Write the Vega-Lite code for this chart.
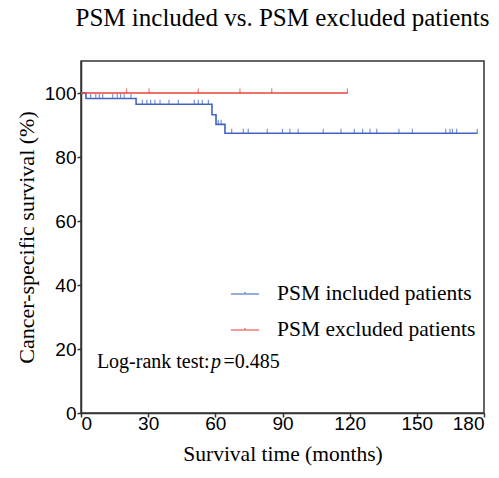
{
  "$schema": "https://vega.github.io/schema/vega-lite/v6.json",
  "width": 403,
  "height": 352,
  "autosize": "none",
  "padding": {"left": 81, "top": 61, "right": 15, "bottom": 65},
  "background": "white",
  "title": {
    "text": "PSM included vs. PSM excluded patients",
    "font": "Liberation Serif",
    "fontSize": 25,
    "fontWeight": "normal",
    "color": "black",
    "anchor": "middle",
    "offset": 30
  },
  "config": {
    "view": {"stroke": "#333", "strokeWidth": 1.5},
    "axis": {
      "domainColor": "#333",
      "domainWidth": 1.5,
      "tickColor": "#333",
      "tickWidth": 1.5,
      "tickSize": 4,
      "grid": false,
      "labelFont": "Liberation Sans",
      "labelFontSize": 19,
      "labelColor": "black",
      "titleFont": "Liberation Serif",
      "titleFontWeight": "normal",
      "titleColor": "black"
    }
  },
  "datasets": {
    "curves": [
      {"group": "PSM included patients", "time": 0, "surv": 100},
      {"group": "PSM included patients", "time": 2.2, "surv": 98.3},
      {"group": "PSM included patients", "time": 24.6, "surv": 96.5},
      {"group": "PSM included patients", "time": 58.5, "surv": 93.2},
      {"group": "PSM included patients", "time": 60.3, "surv": 90.2},
      {"group": "PSM included patients", "time": 64.3, "surv": 87.4},
      {"group": "PSM included patients", "time": 177, "surv": 87.4},
      {"group": "PSM excluded patients", "time": 0, "surv": 100},
      {"group": "PSM excluded patients", "time": 119, "surv": 100}
    ],
    "censors": [
      {"group": "PSM included patients", "time": 4.3, "surv": 98.3},
      {"group": "PSM included patients", "time": 6.6, "surv": 98.3},
      {"group": "PSM included patients", "time": 8.2, "surv": 98.3},
      {"group": "PSM included patients", "time": 9.7, "surv": 98.3},
      {"group": "PSM included patients", "time": 14.2, "surv": 98.3},
      {"group": "PSM included patients", "time": 16.2, "surv": 98.3},
      {"group": "PSM included patients", "time": 17.7, "surv": 98.3},
      {"group": "PSM included patients", "time": 19.3, "surv": 98.3},
      {"group": "PSM included patients", "time": 22.3, "surv": 98.3},
      {"group": "PSM included patients", "time": 27.4, "surv": 96.5},
      {"group": "PSM included patients", "time": 29.4, "surv": 96.5},
      {"group": "PSM included patients", "time": 31.1, "surv": 96.5},
      {"group": "PSM included patients", "time": 33.0, "surv": 96.5},
      {"group": "PSM included patients", "time": 35.3, "surv": 96.5},
      {"group": "PSM included patients", "time": 39.3, "surv": 96.5},
      {"group": "PSM included patients", "time": 43.5, "surv": 96.5},
      {"group": "PSM included patients", "time": 50.6, "surv": 96.5},
      {"group": "PSM included patients", "time": 52.4, "surv": 96.5},
      {"group": "PSM included patients", "time": 54.2, "surv": 96.5},
      {"group": "PSM included patients", "time": 56.9, "surv": 96.5},
      {"group": "PSM included patients", "time": 61.3, "surv": 90.2},
      {"group": "PSM included patients", "time": 62.6, "surv": 90.2},
      {"group": "PSM included patients", "time": 67.3, "surv": 87.4},
      {"group": "PSM included patients", "time": 72.5, "surv": 87.4},
      {"group": "PSM included patients", "time": 74.7, "surv": 87.4},
      {"group": "PSM included patients", "time": 83.2, "surv": 87.4},
      {"group": "PSM included patients", "time": 90.0, "surv": 87.4},
      {"group": "PSM included patients", "time": 93.3, "surv": 87.4},
      {"group": "PSM included patients", "time": 97.0, "surv": 87.4},
      {"group": "PSM included patients", "time": 108.2, "surv": 87.4},
      {"group": "PSM included patients", "time": 116.1, "surv": 87.4},
      {"group": "PSM included patients", "time": 122.1, "surv": 87.4},
      {"group": "PSM included patients", "time": 125.8, "surv": 87.4},
      {"group": "PSM included patients", "time": 129.1, "surv": 87.4},
      {"group": "PSM included patients", "time": 132.1, "surv": 87.4},
      {"group": "PSM included patients", "time": 142.0, "surv": 87.4},
      {"group": "PSM included patients", "time": 148.0, "surv": 87.4},
      {"group": "PSM included patients", "time": 162.9, "surv": 87.4},
      {"group": "PSM included patients", "time": 164.8, "surv": 87.4},
      {"group": "PSM included patients", "time": 165.9, "surv": 87.4},
      {"group": "PSM included patients", "time": 167.8, "surv": 87.4},
      {"group": "PSM included patients", "time": 177, "surv": 87.4},
      {"group": "PSM excluded patients", "time": 20.4, "surv": 100},
      {"group": "PSM excluded patients", "time": 30.4, "surv": 100},
      {"group": "PSM excluded patients", "time": 52.4, "surv": 100},
      {"group": "PSM excluded patients", "time": 71.0, "surv": 100},
      {"group": "PSM excluded patients", "time": 85.2, "surv": 100},
      {"group": "PSM excluded patients", "time": 119, "surv": 100}
    ],
    "notesNormal": [
      {"time": 7.1, "surv": 14.2, "label": "Log-rank test:"},
      {"time": 63.6, "surv": 14.2, "label": "=0.485"}
    ],
    "notesItalic": [
      {"time": 58.1, "surv": 14.2, "label": "p"}
    ]
  },
  "encoding": {
    "x": {
      "field": "time",
      "type": "quantitative",
      "scale": {"domain": [0, 180], "nice": false, "zero": false},
      "axis": {"values": [0, 30, 60, 90, 120, 150, 180], "title": "Survival time (months)", "titleFontSize": 21.5, "labelPadding": -3, "titlePadding": 10}
    },
    "y": {
      "field": "surv",
      "type": "quantitative",
      "scale": {"domain": [0, 110], "nice": false},
      "axis": {"values": [0, 20, 40, 60, 80, 100], "title": "Cancer-specific survival (%)", "titleFontSize": 22, "labelPadding": 1, "titlePadding": 6}
    }
  },
  "layer": [
    {
      "data": {"name": "curves"},
      "mark": {"type": "line", "interpolate": "step-after", "strokeWidth": 1.6},
      "encoding": {
        "color": {
          "field": "group",
          "type": "nominal",
          "scale": {"domain": ["PSM included patients", "PSM excluded patients"], "range": ["#4066C2", "#E8433A"]},
          "legend": {
            "title": null,
            "orient": "none",
            "legendX": 149,
            "legendY": 218,
            "symbolType": "M-1,0L1,0M0,0L0,-0.15",
            "symbolSize": 784,
            "symbolStrokeWidth": 1.5,
            "labelFont": "Liberation Serif",
            "labelFontSize": 21.5,
            "labelColor": "black",
            "labelOffset": 17,
            "rowPadding": 10,
            "labelLimit": 400
          }
        }
      }
    },
    {
      "data": {"name": "censors"},
      "mark": {"type": "tick", "orient": "vertical", "size": 5, "thickness": 1.2, "yOffset": -2},
      "encoding": {
        "color": {"field": "group", "type": "nominal"}
      }
    },
    {
      "data": {"name": "notesNormal"},
      "mark": {"type": "text", "align": "left", "baseline": "alphabetic", "font": "Liberation Serif", "fontSize": 20, "color": "black"},
      "encoding": {"text": {"field": "label"}}
    },
    {
      "data": {"name": "notesItalic"},
      "mark": {"type": "text", "align": "left", "baseline": "alphabetic", "font": "Liberation Serif", "fontSize": 20, "fontStyle": "italic", "color": "black"},
      "encoding": {"text": {"field": "label"}}
    }
  ]
}
